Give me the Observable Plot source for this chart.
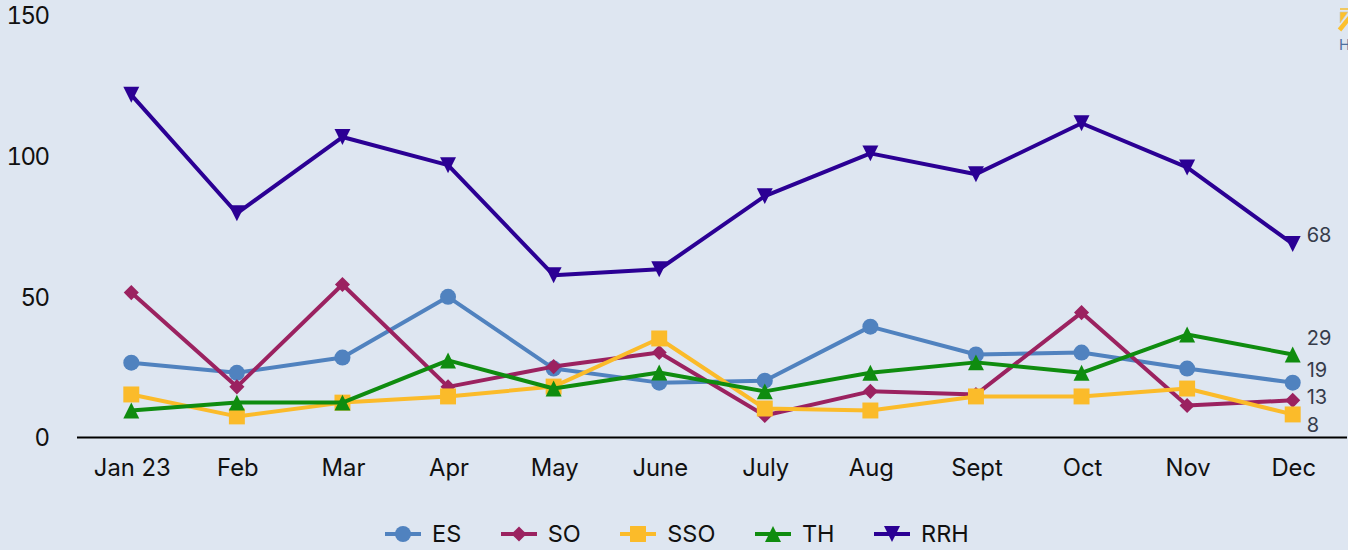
<!DOCTYPE html>
<html>
<head>
<meta charset="utf-8">
<script src="https://cdn.jsdelivr.net/npm/d3@7"></script>
<script src="https://cdn.jsdelivr.net/npm/@observablehq/plot@0.6"></script>
<style>
html,body{margin:0;padding:0;width:1348px;height:550px;overflow:hidden;background:#dee6f1;font-family:Inter,sans-serif;}
#wrap{position:relative;width:1348px;height:550px;}
#chart svg{display:block;background:transparent;}
#chart g[aria-label="y-axis tick label"] text{letter-spacing:-1.6px;}
#legend{position:absolute;left:385px;top:520px;display:flex;gap:39.5px;align-items:center;font-size:23.5px;line-height:28px;color:#111;white-space:nowrap;}
#legend .item{display:flex;align-items:center;gap:11px;}
#legend svg{display:block;}
#icon{position:absolute;left:1337px;top:8px;width:11px;height:46px;overflow:hidden;}
#icon span{position:absolute;left:2px;top:27px;font-size:15px;line-height:20px;color:#4f6f9f;}
</style>
</head>
<body>
<div id="wrap">
<div id="chart"></div>
<div id="legend"></div>
<div id="icon">
<svg width="11" height="26" viewBox="0 0 11 26">
  <rect x="3" y="0" width="8" height="2" fill="#f0c860"/>
  <path d="M3 4H11L3 15Z" fill="#fcc02e" stroke="#c8c6b8" stroke-width="0.6"/>
  <line x1="2.5" y1="22" x2="13" y2="9" stroke="#fcc02e" stroke-width="4.5"/>
</svg>
<span>H</span>
</div>
</div>
<script>
const months = ["Jan 23","Feb","Mar","Apr","May","June","July","Aug","Sept","Oct","Nov","Dec"];
const ES  = [26.6,23,28.4,50,24.5,19.5,20.2,39.4,29.5,30.2,24.5,19.5];
const SO  = [51.5,18,54.4,18,25.2,30.2,7.8,16.4,15.3,44.4,11.4,13.2];
const SSO = [15.3,7.5,12.4,14.6,18.1,35.2,10.3,9.6,14.6,14.6,17.4,8.2];
const TH  = [9.6,12.4,12.4,27.4,17.4,23.1,16.4,23,26.7,23,36.6,29.5];
const RRH = [121.8,79.7,106.8,96.8,57.7,59.8,85.8,101,93.6,111.7,96,68.8];
const endLabels = {ES:"19", SO:"13", SSO:"8", TH:"29", RRH:"68"};
const yTicks = [0,50,100,150];

const triangleUp = {
  draw(ctx, size) {
    const s = Math.sqrt(size);
    ctx.moveTo(0, -s / 2);
    ctx.lineTo(s / 2, s / 2);
    ctx.lineTo(-s / 2, s / 2);
    ctx.closePath();
  }
};
const triangleDown = {
  draw(ctx, size) {
    const s = Math.sqrt(size);
    ctx.moveTo(-s / 2, -s / 2);
    ctx.lineTo(s / 2, -s / 2);
    ctx.lineTo(0, s / 2);
    ctx.closePath();
  }
};

const seriesDefs = [
  {name:"ES",  values:ES,  color:"#5082bf", symbol:d3.symbolCircle,   r:8,   labelDy:-12},
  {name:"SO",  values:SO,  color:"#9b2260", symbol:d3.symbolDiamond2, r:6.8, labelDy:-3},
  {name:"SSO", values:SSO, color:"#fbbb2a", symbol:d3.symbolSquare,   r:9,   labelDy:11},
  {name:"TH",  values:TH,  color:"#0f8c0f", symbol:triangleUp,        r:9,   labelDy:-16},
  {name:"RRH", values:RRH, color:"#2b0094", symbol:triangleDown,      r:9,   labelDy:-8.5}
];

const marks = [
  Plot.axisY({ticks:yTicks, tickSize:0, tickPadding:30, fontSize:24, label:null, fill:"#111", anchor:"left", dy:1}),
  Plot.axisX({tickSize:0, tickPadding:22, fontSize:23.8, label:null, fill:"#111", dx:1}),
  Plot.ruleY([0], {stroke:"#000", strokeWidth:2, insetLeft:-1, insetRight:-2})
];
for (const s of seriesDefs) {
  const rows = months.map((m,i)=>({m, v:s.values[i]}));
  marks.push(Plot.line(rows, {x:"m", y:"v", stroke:s.color, strokeWidth:4, curve:"linear"}));
  marks.push(Plot.dot(rows, {x:"m", y:"v", fill:s.color, stroke:"none", symbol:()=>s.symbol, r:s.r}));
}
for (const s of seriesDefs) {
  marks.push(Plot.text([{m:"Dec", v:s.values[11]}], {
    x:"m", y:"v", text:()=>endLabels[s.name], dx:14, dy:s.labelDy,
    textAnchor:"start", fontSize:20, fill:"#363c4b"
  }));
}

const plot = Plot.plot({
  width:1348, height:500,
  marginTop:15, marginBottom:63, marginLeft:78, marginRight:3,
  style:{background:"transparent", fontFamily:"Inter, sans-serif", overflow:"visible"},
  x:{type:"point", domain:months, padding:0.5, round:false, label:null},
  y:{domain:[0,150], label:null},
  marks
});
document.getElementById("chart").appendChild(plot);

const legend = d3.select("#legend");
for (const s of seriesDefs) {
  const item = legend.append("div").attr("class","item");
  const svg = item.append("svg").attr("width",36).attr("height",20);
  svg.append("line").attr("x1",0).attr("x2",36).attr("y1",10).attr("y2",10)
     .attr("stroke",s.color).attr("stroke-width",4);
  svg.append("path").attr("transform","translate(18,10)").attr("fill",s.color)
     .attr("d",d3.symbol(s.symbol, s.r*s.r*Math.PI)());
  item.append("span").text(s.name);
}
</script>
</body>
</html>
